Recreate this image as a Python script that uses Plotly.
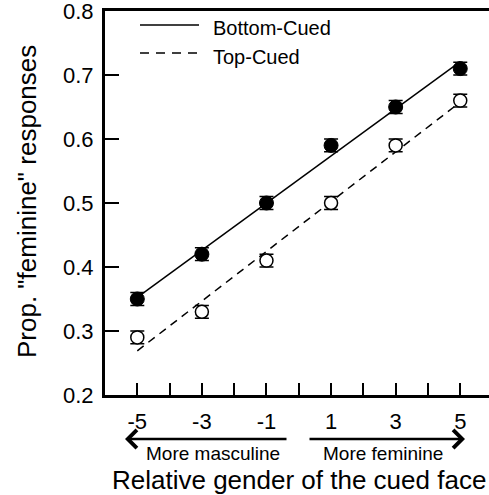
import numpy as np
import plotly.graph_objects as go

gender = [-5, -3, -1, 1, 3, 5]
bottom_cued = [0.35, 0.42, 0.50, 0.59, 0.65, 0.71]
bottom_err = [0.01, 0.01, 0.01, 0.01, 0.01, 0.01]
top_cued = [0.29, 0.33, 0.41, 0.50, 0.59, 0.66]
top_err = [0.01, 0.01, 0.01, 0.01, 0.01, 0.01]
x_tickvals = [-5, -4, -3, -2, -1, 0, 1, 2, 3, 4, 5]
x_ticktext = ["-5", "", "-3", "", "-1", "", "1", "", "3", "", "5"]
y_tickvals = [0.2, 0.3, 0.4, 0.5, 0.6, 0.7, 0.8]

FONT = "Liberation Sans, Arial, Helvetica, sans-serif"

L, T, B, W, H = 105, 11, 100, 489, 495
PW, PH = W - L, H - T - B


def xp(px):
    return (px - L) / PW


def yp(py):
    return (H - B - py) / PH


xs = np.array(gender, dtype=float)
fb = np.polyfit(xs, bottom_cued, 1)
ft = np.polyfit(xs, top_cued, 1)
xfit = np.array([xs.min(), xs.max()])

fig = go.Figure()
fig.add_trace(go.Scatter(x=xfit, y=np.polyval(fb, xfit), mode="lines",
                         line=dict(color="black", width=1.5), showlegend=False))
fig.add_trace(go.Scatter(x=xfit, y=np.polyval(ft, xfit), mode="lines",
                         line=dict(color="black", width=1.5, dash="8px,6px"), showlegend=False))
fig.add_trace(go.Scatter(x=gender, y=bottom_cued, mode="markers",
                         marker=dict(size=14, color="black", line=dict(color="black", width=1)),
                         error_y=dict(type="data", array=bottom_err, color="black", thickness=1.5, width=7),
                         showlegend=False))
fig.add_trace(go.Scatter(x=gender, y=top_cued, mode="markers",
                         marker=dict(size=13, color="white", line=dict(color="black", width=1.5)),
                         error_y=dict(type="data", array=top_err, color="black", thickness=1.5, width=7),
                         showlegend=False))

# manual legend
fig.add_shape(type="line", xref="paper", yref="paper", x0=xp(140), x1=xp(199),
              y0=yp(25), y1=yp(25), line=dict(color="black", width=1.5))
fig.add_shape(type="line", xref="paper", yref="paper", x0=xp(140), x1=xp(199),
              y0=yp(53), y1=yp(53), line=dict(color="black", width=1.5, dash="9px,7px"))
fig.add_annotation(text="Bottom-Cued", xref="paper", yref="paper", x=xp(211), y=yp(28),
                   xanchor="left", yanchor="middle", showarrow=False,
                   font=dict(size=20, family=FONT, color="black"))
fig.add_annotation(text="Top-Cued", xref="paper", yref="paper", x=xp(211), y=yp(57),
                   xanchor="left", yanchor="middle", showarrow=False,
                   font=dict(size=20, family=FONT, color="black"))

# direction arrows
fig.add_annotation(x=xp(125), y=yp(439), xref="paper", yref="paper", ax=163, ay=0,
                   showarrow=True, arrowhead=4, arrowsize=1.4, arrowwidth=2.5,
                   arrowcolor="black", text="")
fig.add_annotation(x=xp(465), y=yp(439), xref="paper", yref="paper", ax=-157, ay=0,
                   showarrow=True, arrowhead=4, arrowsize=1.4, arrowwidth=2.5,
                   arrowcolor="black", text="")
fig.add_annotation(text="More masculine", xref="paper", yref="paper", x=xp(213), y=yp(453),
                   xanchor="center", yanchor="middle", showarrow=False,
                   font=dict(size=19, family=FONT, color="black"))
fig.add_annotation(text="More feminine", xref="paper", yref="paper", x=xp(383), y=yp(453),
                   xanchor="center", yanchor="middle", showarrow=False,
                   font=dict(size=19, family=FONT, color="black"))

# axis titles
fig.add_annotation(text="Relative gender of the cued face", xref="paper", yref="paper",
                   x=xp(299), y=yp(480), xanchor="center", yanchor="middle",
                   showarrow=False, font=dict(size=26, family=FONT, color="black"))
fig.add_annotation(text='Prop. "feminine" responses', xref="paper", yref="paper",
                   x=xp(27), y=yp(202), xanchor="center", yanchor="middle", textangle=-90,
                   showarrow=False, font=dict(size=26, family=FONT, color="black"))

fig.update_layout(
    width=W, height=H,
    margin=dict(l=L, r=0, t=T, b=B),
    plot_bgcolor="white", paper_bgcolor="white",
    font=dict(family=FONT, color="black"),
    showlegend=False,
    xaxis=dict(range=[-6, 5.89], tickvals=x_tickvals, ticktext=x_ticktext,
               ticks="inside", ticklen=12, tickwidth=2, tickcolor="black",
               showline=True, linewidth=3, linecolor="black", mirror=True,
               showgrid=False, zeroline=False, ticklabelstandoff=5,
               ticklabeloverflow="allow",
               tickfont=dict(size=22, family=FONT, color="black")),
    yaxis=dict(range=[0.2, 0.8], tickvals=y_tickvals, tickformat=".1f",
               ticks="inside", ticklen=14, tickwidth=2, tickcolor="black",
               showline=True, linewidth=3, linecolor="black",
               showgrid=False, zeroline=False, ticklabelstandoff=4,
               ticklabeloverflow="allow",
               tickfont=dict(size=22, family=FONT, color="black")),
)

fig.write_html("out.html", config={"displayModeBar": False},
               post_script="document.body.style.margin='0';")
